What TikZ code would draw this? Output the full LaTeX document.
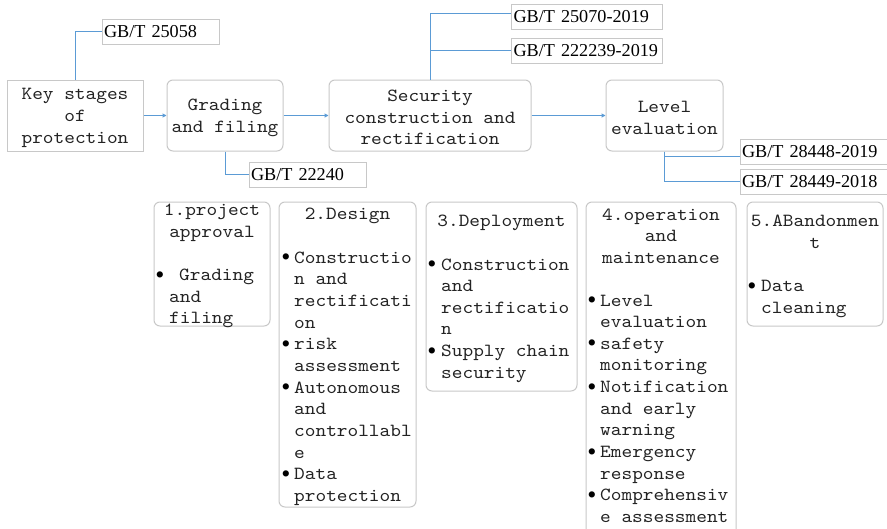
\documentclass[tikz,border=0pt]{standalone}
\usepackage{fontspec}
\setmainfont{Liberation Serif}
\newfontfamily\monofam{lmmono10-regular.otf}[FakeStretch=1.1]
\usetikzlibrary{arrows.meta,calc}
\definecolor{linkblue}{RGB}{91,155,213}
\definecolor{framegray}{RGB}{200,200,200}
\definecolor{inkgray}{RGB}{35,35,35}

\newcommand\txtfont{\monofam\fontsize{18.5}{21.65}\selectfont}
\newcommand\gbfont{\fontsize{18.2}{22}\selectfont}
\newcommand\dotfont{\fontsize{26}{28}\selectfont}

% one text line per node: style, name prefix, x, first baseline, lines
\newcommand\putlines[5]{%
  \foreach \t [count=\k] in {#5}
    \node[#1] (#2\k) at (#3,{#4+(\k-1)*21.65}) {\t};}

\begin{document}
\begin{tikzpicture}[x=1pt,y=-1pt,
  conn/.style={draw=linkblue,line width=1pt},
  arr/.style={conn,-{Triangle[length=4pt,width=4pt]}},
  frame/.style={draw=framegray,line width=1pt,inner sep=0pt},
  stagebox/.style={frame,rounded corners=6pt},
  title/.style={text=inkgray,font=\txtfont,align=center,inner sep=0pt},
  gbbox/.style={draw=framegray,line width=1pt,inner xsep=2pt,inner ysep=0pt,
    minimum height=25pt,align=left,font=\gbfont,text=black},
  ln/.style={text=inkgray,font=\txtfont,inner sep=0pt,anchor=base west},
  hd/.style={ln,anchor=base},
  bul/.style={text=black,font=\dotfont,inner sep=0pt,anchor=base,yshift=-2.5pt}]

\fill[white] (0,0) rectangle (887,528);
\useasboundingbox (0,0) rectangle (887,528);

% main stages
\node[frame,minimum width=136pt,minimum height=71pt] (key) at (75,115.5) {};
\node[stagebox,minimum width=116pt,minimum height=71pt] (grade) at (225,115.5) {};
\node[stagebox,minimum width=202pt,minimum height=71pt] (sec) at (430,115.5) {};
\node[stagebox,minimum width=117pt,minimum height=71pt] (lev) at (664.5,115.5) {};
\node[title] (keyT) at ($(key)+(0,2.5)$) {Key stages\\of\\protection};
\node[title] (gradeT) at ($(grade)+(0,2.5)$) {Grading\\and filing};
\node[title] (secT) at ($(sec)+(0,2)$) {Security\\construction and\\rectification};
\node[title] (levT) at ($(lev)+(0,2.5)$) {Level\\evaluation};

% standards
\node[gbbox,text width=113pt] (g25058) at (160.5,31.5) {GB/T 25058};
\node[gbbox,text width=113pt] (g22240) at (307.5,174.5) {GB/T 22240};
\node[gbbox,text width=146.5pt] (g25070) at (586.75,16.5) {GB/T 25070-2019};
\node[gbbox,text width=146.5pt] (g222239) at (586.75,50.5) {GB/T 222239-2019};
\node[gbbox,text width=144pt] (g28448) at (814,151.5) {GB/T 28448-2019};
\node[gbbox,text width=144pt] (g28449) at (814,181.5) {GB/T 28449-2018};

% connectors
\draw[conn] (key.north) |- (g25058.west);
\draw[arr] (key.east) -- (grade.west);
\draw[conn] (grade.south) |- (g22240.west);
\draw[arr] (grade.east) -- (sec.west);
\draw[conn] (sec.north) |- ($(g25070.west)+(0,-3)$);
\draw[conn] (sec.north |- g222239.west) -- (g222239.west);
\draw[arr] (sec.east) -- (lev.west);
\draw[conn] (lev.south) |- ($(g28448.west)+(0,5)$);
\draw[conn] (lev.south) |- (g28449.west);

% lifecycle phases
\node[stagebox,minimum width=116pt,minimum height=124pt] (b1) at (212,264) {};
\node[stagebox,minimum width=137pt,minimum height=305pt] (b2) at (347.5,354.5) {};
\node[stagebox,minimum width=151pt,minimum height=189pt] (b3) at (501.5,296.5) {};
\node[stagebox,minimum width=150pt,minimum height=338pt] (b4) at (661,371) {};
\node[stagebox,minimum width=136pt,minimum height=124pt] (b5) at (815,264) {};

% 1. project approval
\putlines{hd}{b1h}{212}{215.5}{1.project,approval}
\node[bul] (b1d1) at (160,280.5) {•};
\node[ln] (b1t1) at (179,280.5) {Grading};
\putlines{ln}{b1u}{169}{302.15}{and,filing}

% 2. design
\putlines{hd}{b2h}{347.5}{219}{2.Design}
\putlines{ln}{b2t}{294}{263.3}{Constructio,n and,rectificati,on,risk,assessment,Autonomous,and,controllabl,e,Data,protection}
\foreach \k in {1,5,7,11}
  \node[bul] (b2d\k) at (286,{263.3+(\k-1)*21.65}) {•};

% 3. deployment
\putlines{hd}{b3h}{501.5}{226.5}{3.Deployment}
\putlines{ln}{b3t}{441}{270}{Construction,and,rectificatio,n,Supply chain,security}
\foreach \k in {1,5}
  \node[bul] (b3d\k) at (432,{270+(\k-1)*21.65}) {•};

% 4. operation and maintenance
\putlines{hd}{b4h}{661}{220}{4.operation,and,maintenance}
\putlines{ln}{b4t}{600}{306}{Level,evaluation,safety,monitoring,Notification,and early,warning,Emergency,response,Comprehensiv,e assessment}
\foreach \k in {1,3,5,8,10}
  \node[bul] (b4d\k) at (592,{306+(\k-1)*21.65}) {•};

% 5. abandonment
\putlines{hd}{b5h}{815}{226.5}{5.ABandonmen,t}
\putlines{ln}{b5t}{761}{291.5}{Data,cleaning}
\node[bul] (b5d1) at (752,291.5) {•};

\end{tikzpicture}
\end{document}
